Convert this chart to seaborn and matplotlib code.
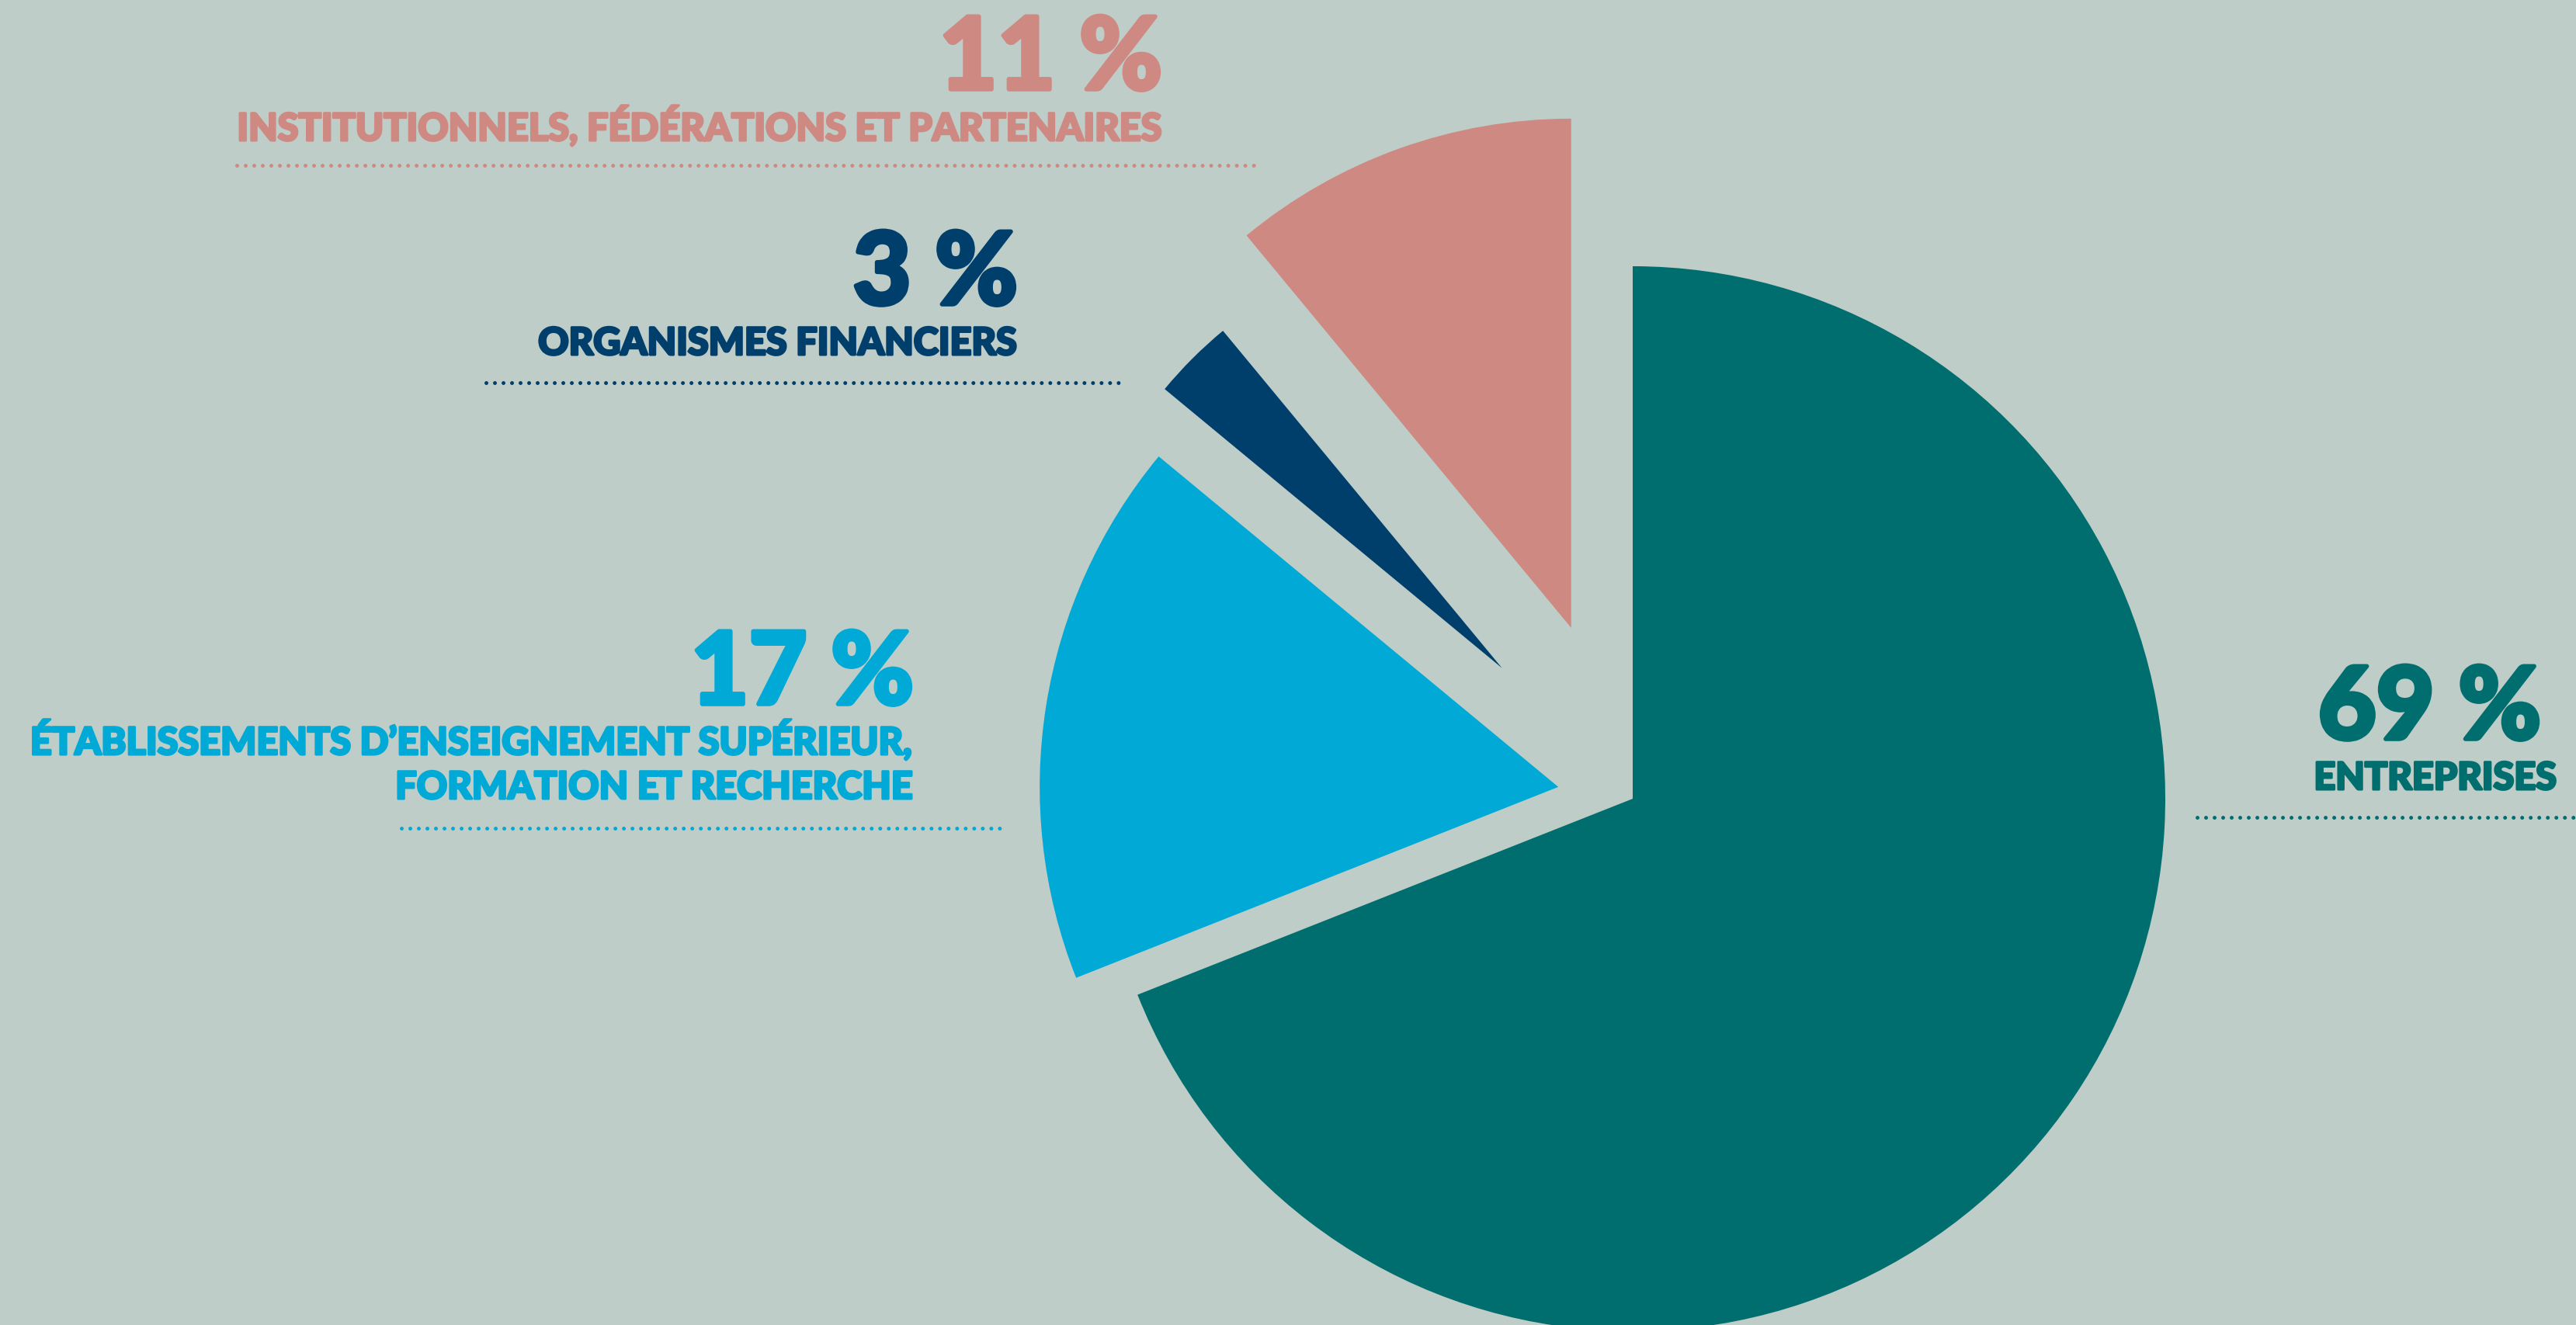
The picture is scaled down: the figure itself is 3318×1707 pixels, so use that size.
import matplotlib
matplotlib.use("Agg")
import matplotlib.pyplot as plt
import matplotlib.patheffects as pe
import seaborn as sns

# Répartition des membres par catégorie (en %)
categories = [
    "ENTREPRISES",
    "ÉTABLISSEMENTS D’ENSEIGNEMENT SUPÉRIEUR,\nFORMATION ET RECHERCHE",
    "ORGANISMES FINANCIERS",
    "INSTITUTIONNELS, FÉDÉRATIONS ET PARTENAIRES",
]
shares = [69, 17, 3, 11]
share_labels = ["69 %", "17 %", "3 %", "11 %"]

colors = ["#006E6E", "#00A9D6", "#003E6B", "#CE8982"]
background = "#BECDC7"

W, H, DPI = 3318, 1707, 100

sns.set_theme(style="white", rc={"figure.facecolor": background,
                                 "axes.facecolor": background})
plt.rcParams["font.family"] = ["Lato", "DejaVu Sans"]

fig = plt.figure(figsize=(W / DPI, H / DPI), dpi=DPI)
ax = fig.add_axes([0, 0, 1, 1])


def Y(y):
    """Convert a top-based pixel row to data y."""
    return H - y


# wedge layout: pull-out distance and radius per wedge (pixels)
pie_center = (2103, Y(1029))
pull_out = [0, 97, 238, 234]
radii = [686, 668, 564, 656]

wedges, _ = ax.pie(shares, colors=colors, startangle=90, counterclock=False,
                   center=pie_center, radius=1, explode=pull_out,
                   wedgeprops=dict(linewidth=0))
for wedge, r in zip(wedges, radii):
    wedge.set_radius(r)

ax.set_xlim(0, W)
ax.set_ylim(0, H)
ax.set_aspect("equal")
ax.axis("off")

# annotation layout: (value right x, value baseline, label right x,
#                     first label baseline, dotted line x0, x1, y)
layout = [
    (3273, 952, 3294, 1017, 2830, 3330, 1053),
    (1177, 907, 1177, 972, 517, 1293, 1067),
    (1311, 392, 1311, 457, 626, 1450, 493),
    (1497, 115, 1499, 181, 305, 1624, 213),
]
value_size = 93
label_size = 35
line_step = 57

for label, value, color, (vx, vy, lx, ly, x0, x1, dy) in zip(
        categories, share_labels, colors, layout):
    ax.text(vx, Y(vy), value, color=color, fontsize=value_size,
            fontweight="black", ha="right", va="baseline",
            path_effects=[pe.withStroke(linewidth=4, foreground=color)])
    for i, line in enumerate(label.split("\n")):
        ax.text(lx, Y(ly + i * line_step), line, color=color,
                fontsize=label_size, fontweight="black",
                ha="right", va="baseline",
                path_effects=[pe.withStroke(linewidth=2.2, foreground=color)])
    ax.plot([x0, x1], [Y(dy), Y(dy)], color=color, lw=3.6,
            linestyle=(0, (0.001, 2.2)), dash_capstyle="round",
            solid_capstyle="round")

fig.savefig("out.png", dpi=DPI, facecolor=background)
